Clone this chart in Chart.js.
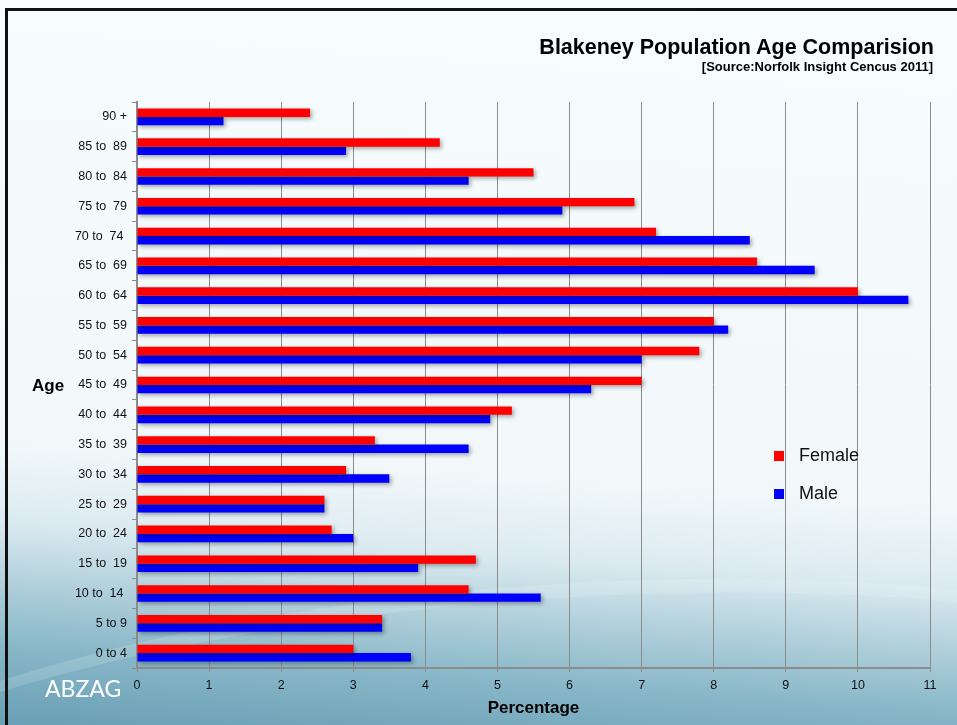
<!DOCTYPE html>
<html>
<head>
<meta charset="utf-8">
<script src="https://cdn.jsdelivr.net/npm/chart.js@4"></script>
<style>
  html, body { margin: 0; padding: 0; }
  body { width: 957px; height: 725px; overflow: hidden; position: relative; font-family: "Liberation Sans", Arial, sans-serif;
    background: linear-gradient(184deg, #f7fcfd 0%, #f2f8fa 64%, #dcebf1 74%, #b1d0db 82%, #88b7c8 90%, #6a9fb5 100%);
  }
  .swoosh { position: absolute; left: -300px; top: 585px; width: 1700px; height: 500px; border-radius: 50%;
    border-top: 14px solid rgba(255,255,255,0.15); transform: rotate(-4deg); }
  .frame { position: absolute; left: 5px; top: 8px; width: 970px; height: 740px; border-left: 3px solid #111; border-top: 3px solid #111; box-sizing: border-box; }
  canvas { position: absolute; left: 0; top: 0; }
  .title { position: absolute; right: 23px; top: 35px; font-weight: bold; font-size: 21.5px; color: #000; white-space: nowrap; }
  .subtitle { position: absolute; right: 24px; top: 59px; font-weight: bold; font-size: 13px; color: #000; white-space: nowrap; }
  .age { position: absolute; left: 32px; top: 376px; font-weight: bold; font-size: 17px; color: #000; }
  .brand { position: absolute; left: 45px; top: 674px; font-family: Lato, "Open Sans", sans-serif; font-size: 23px; color: #fff; }
  .legend { position: absolute; left: 774px; top: 445px; font-size: 18px; color: #111; }
  .legend div { height: 38px; position: relative; }
  .legend span.sw { position: absolute; left: 0; top: 6px; width: 10px; height: 10px; }
  .legend span.lb { position: absolute; left: 25px; top: 0; }
</style>
</head>
<body>
<div class="swoosh"></div>
<div class="frame"></div>
<canvas id="chart" width="957" height="725"></canvas>
<div class="title">Blakeney Population Age Comparision</div>
<div class="subtitle">[Source:Norfolk Insight Cencus 2011]</div>
<div class="age">Age</div>
<div class="brand">ABZAG</div>
<div class="legend" id="legend"></div>
<script>
// age bands, top to bottom as drawn
const ageGroups = ["90 +", "85 to  89", "80 to  84", "75 to  79", "70 to  74 ", "65 to  69", "60 to  64",
  "55 to  59", "50 to  54", "45 to  49", "40 to  44", "35 to  39", "30 to  34", "25 to  29",
  "20 to  24", "15 to  19", "10 to  14 ", "5 to 9", "0 to 4"];
const female = [2.4, 4.2, 5.5, 6.9, 7.2, 8.6, 10.0, 8.0, 7.8, 7.0, 5.2, 3.3, 2.9, 2.6, 2.7, 4.7, 4.6, 3.4, 3.0];
const male = [1.2, 2.9, 4.6, 5.9, 8.5, 9.4, 10.7, 8.2, 7.0, 6.3, 4.9, 4.6, 3.5, 2.6, 3.0, 3.9, 5.6, 3.4, 3.8];
const seriesNames = ["Female", "Male"];
const seriesColors = ["#ff0000", "#0000ff"];
const xMax = 11;

// soft drop shadow under the bars
const barShadow = {
  id: "barShadow",
  beforeDatasetsDraw(chart) {
    const ctx = chart.ctx;
    ctx.save();
    ctx.shadowColor = "rgba(0,0,0,0.35)";
    ctx.shadowBlur = 4;
    ctx.shadowOffsetX = 2;
    ctx.shadowOffsetY = 2;
  },
  afterDatasetsDraw(chart) {
    chart.ctx.restore();
  }
};

const chart = new Chart(document.getElementById("chart"), {
  type: "bar",
  data: {
    labels: ageGroups,
    datasets: [
      { label: seriesNames[0], data: female, backgroundColor: seriesColors[0] },
      { label: seriesNames[1], data: male, backgroundColor: seriesColors[1] }
    ]
  },
  options: {
    indexAxis: "y",
    responsive: false,
    animation: false,
    layout: { padding: { top: 102, right: 27, left: 0, bottom: 0 } },
    datasets: { bar: { categoryPercentage: 0.56, barPercentage: 1.0 } },
    plugins: { legend: { display: false }, tooltip: { enabled: false } },
    scales: {
      x: {
        min: 0,
        max: xMax,
        ticks: { stepSize: 1, color: "#111", font: { family: "Liberation Sans", size: 12.5 }, padding: 6 },
        grid: { color: "#8c8c8c", lineWidth: 1, tickLength: 4 },
        border: { color: "#8c8c8c", width: 2 },
        title: { display: true, text: "Percentage", color: "#000",
          font: { family: "Liberation Sans", size: 17, weight: "bold" }, padding: { top: 0, bottom: 6 } },
        afterFit(scale) { scale.height = 57; }
      },
      y: {
        ticks: { color: "#111", font: { family: "Liberation Sans", size: 12.5 }, padding: 5 },
        grid: { drawOnChartArea: false, color: "#8c8c8c", tickLength: 5 },
        border: { color: "#8c8c8c", width: 2 },
        afterFit(scale) { scale.width = 137; }
      }
    }
  },
  plugins: [barShadow]
});

// legend placed inside the plot like the original
const legend = document.getElementById("legend");
chart.data.datasets.forEach(ds => {
  const row = document.createElement("div");
  row.innerHTML = '<span class="sw" style="background:' + ds.backgroundColor + '"></span><span class="lb">' + ds.label + '</span>';
  legend.appendChild(row);
});
</script>
</body>
</html>
